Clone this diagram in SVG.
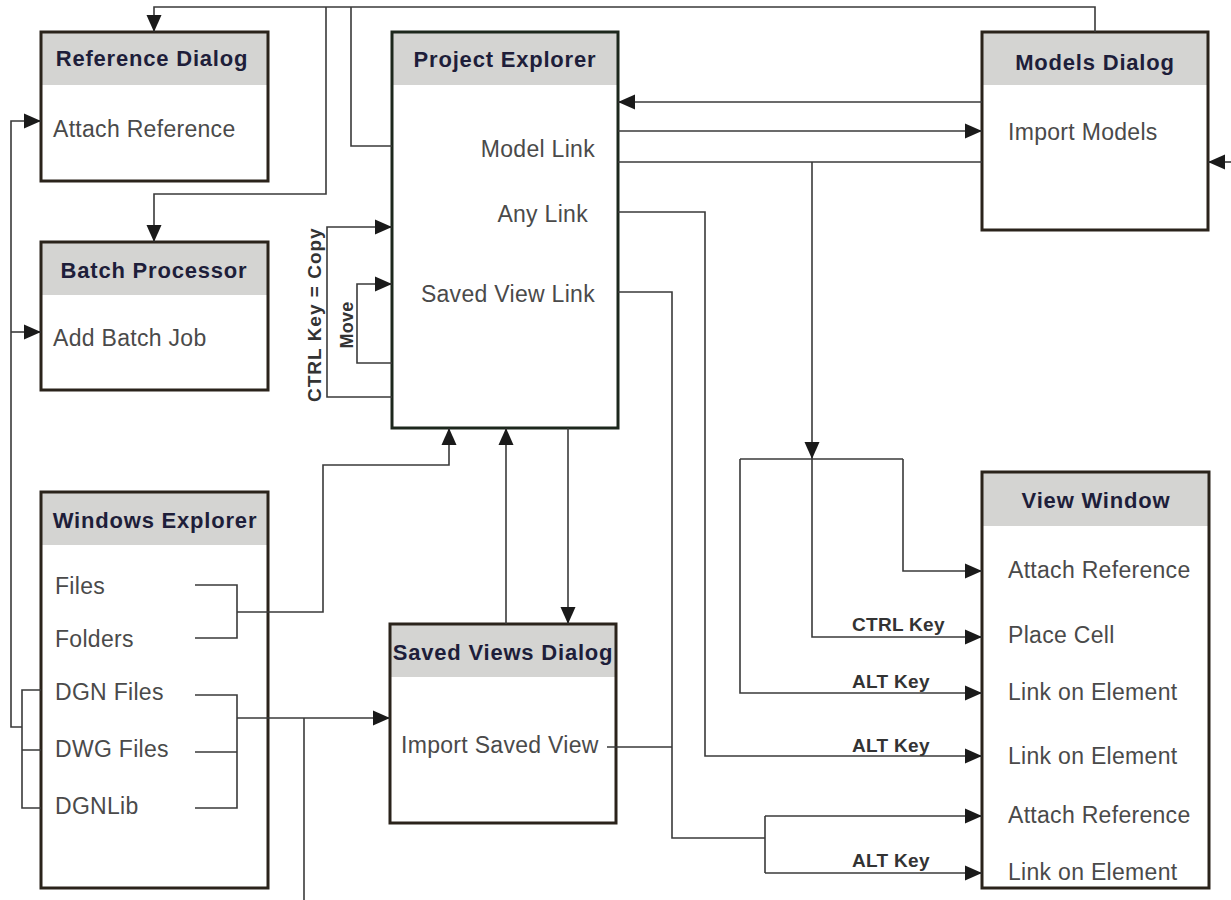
<svg xmlns="http://www.w3.org/2000/svg" width="1231" height="900" viewBox="0 0 1231 900">
<style>
.box{fill:#fff;stroke:none}
.hdr{fill:#d4d4d2;stroke:none}
.frame{fill:none;stroke:#2a231b;stroke-width:3}
.frame-g{fill:none;stroke:#1c271c;stroke-width:3}
.title{font-family:"Liberation Sans",Arial,sans-serif;font-weight:bold;font-size:22px;letter-spacing:0.8px;fill:#1e1e3a;text-anchor:middle}
.item{font-family:"Liberation Sans",Arial,sans-serif;font-size:23px;letter-spacing:0.3px;fill:#4a4a4a}
.lbl{font-family:"Liberation Sans",Arial,sans-serif;font-weight:bold;font-size:19px;letter-spacing:0.3px;fill:#333}
.ln{fill:none;stroke:#3a3a3a;stroke-width:1.6}
.arr{marker-end:url(#ah)}
</style>
<defs>
<marker id="ah" markerUnits="userSpaceOnUse" markerWidth="17" markerHeight="17" viewBox="0 0 17 17" refX="17" refY="8.5" orient="auto">
<path d="M0,1 L17,8.5 L0,16 z" fill="#1a1a1a"/>
</marker>
</defs>
<rect width="1231" height="900" fill="#fff"/>

<g id="reference-dialog">
<rect class="box" x="41" y="32" width="227" height="149"/>
<rect class="hdr" x="41" y="32" width="227" height="53"/>
<rect class="frame" x="41" y="32" width="227" height="149"/>
<text class="title" x="152" y="66">Reference Dialog</text>
<text class="item" x="53" y="137">Attach Reference</text>
</g>

<g id="batch-processor">
<rect class="box" x="41" y="242" width="227" height="148"/>
<rect class="hdr" x="41" y="242" width="227" height="53"/>
<rect class="frame" x="41" y="242" width="227" height="148"/>
<text class="title" x="154" y="278">Batch Processor</text>
<text class="item" x="53" y="346">Add Batch Job</text>
</g>

<g id="project-explorer">
<rect class="box" x="392" y="32" width="226" height="396"/>
<rect class="hdr" x="392" y="32" width="226" height="53"/>
<rect class="frame-g" x="392" y="32" width="226" height="396"/>
<text class="title" x="505" y="67">Project Explorer</text>
<text class="item" x="595" y="157" text-anchor="end">Model Link</text>
<text class="item" x="588" y="222" text-anchor="end">Any Link</text>
<text class="item" x="595" y="302" text-anchor="end">Saved View Link</text>
</g>

<g id="models-dialog">
<rect class="box" x="982" y="32" width="226" height="198"/>
<rect class="hdr" x="982" y="32" width="226" height="53"/>
<rect class="frame" x="982" y="32" width="226" height="198"/>
<text class="title" x="1095" y="70">Models Dialog</text>
<text class="item" x="1008" y="140">Import Models</text>
</g>

<g id="windows-explorer">
<rect class="box" x="41" y="492" width="227" height="396"/>
<rect class="hdr" x="41" y="492" width="227" height="53"/>
<rect class="frame" x="41" y="492" width="227" height="396"/>
<text class="title" x="155" y="528">Windows Explorer</text>
<text class="item" x="55" y="594">Files</text>
<text class="item" x="55" y="647">Folders</text>
<text class="item" x="55" y="700">DGN Files</text>
<text class="item" x="55" y="757">DWG Files</text>
<text class="item" x="55" y="814">DGNLib</text>
</g>

<g id="saved-views-dialog">
<rect class="box" x="390" y="624" width="226" height="199"/>
<rect class="hdr" x="390" y="624" width="226" height="53"/>
<rect class="frame" x="390" y="624" width="226" height="199"/>
<text class="title" x="503" y="660">Saved Views Dialog</text>
<text class="item" x="401" y="753">Import Saved View</text>
</g>

<g id="view-window">
<rect class="box" x="982" y="472" width="227" height="416"/>
<rect class="hdr" x="982" y="472" width="227" height="54"/>
<rect class="frame" x="982" y="472" width="227" height="416"/>
<text class="title" x="1096" y="508">View Window</text>
<text class="item" x="1008" y="578">Attach Reference</text>
<text class="item" x="1008" y="643">Place Cell</text>
<text class="item" x="1008" y="700">Link on Element</text>
<text class="item" x="1008" y="764">Link on Element</text>
<text class="item" x="1008" y="823">Attach Reference</text>
<text class="item" x="1008" y="880">Link on Element</text>
</g>

<g id="connectors">
<path class="ln arr" d="M1095,32 V7 H154 V32"/>
<path class="ln" d="M351,7 V146 H392"/>
<path class="ln arr" d="M326,7 V194 H154 V242"/>
<path class="ln arr" d="M22,727 H11 V121 H41"/>
<path class="ln arr" d="M11,332 H41"/>
<path class="ln" d="M41,690 H22 V808 H41 M22,750 H41"/>
<path class="ln" d="M195,585 H237 V638 H195"/>
<path class="ln arr" d="M237,612 H323 V465 H449 V428"/>
<path class="ln" d="M195,695 H237 V808 H195 M195,752 H237"/>
<path class="ln arr" d="M237,718 H390"/>
<path class="ln" d="M304,718 V900"/>
<path class="ln arr" d="M506,624 V428"/>
<path class="ln arr" d="M568,428 V624"/>
<path class="ln arr" d="M982,102 H618"/>
<path class="ln arr" d="M618,131 H982"/>
<path class="ln" d="M618,162 H982"/>
<path class="ln arr" d="M812,162 V459"/>
<path class="ln arr" d="M1231,162 H1208"/>
<path class="ln" d="M740,459 H903"/>
<path class="ln arr" d="M903,459 V571 H982"/>
<path class="ln arr" d="M812,459 V637 H982"/>
<path class="ln arr" d="M740,459 V693 H982"/>
<path class="ln arr" d="M618,212 H705 V756 H982"/>
<path class="ln" d="M618,292 H672 V838 H765 M607,747 H672 M765,816 V873"/>
<path class="ln arr" d="M765,816 H982"/>
<path class="ln arr" d="M765,873 H982"/>
<path class="ln arr" d="M392,397 H327 V227 H392"/>
<path class="ln arr" d="M392,363 H357 V284 H392"/>
<text class="lbl" x="852" y="631">CTRL Key</text>
<text class="lbl" x="852" y="688">ALT Key</text>
<text class="lbl" x="852" y="752">ALT Key</text>
<text class="lbl" x="852" y="867">ALT Key</text>
<text class="lbl" transform="translate(321,315) rotate(-90)" text-anchor="middle" textLength="174" lengthAdjust="spacing">CTRL Key = Copy</text>
<text class="lbl" transform="translate(353,325) rotate(-90)" text-anchor="middle" style="font-size:18px">Move</text>
</g>
</svg>
